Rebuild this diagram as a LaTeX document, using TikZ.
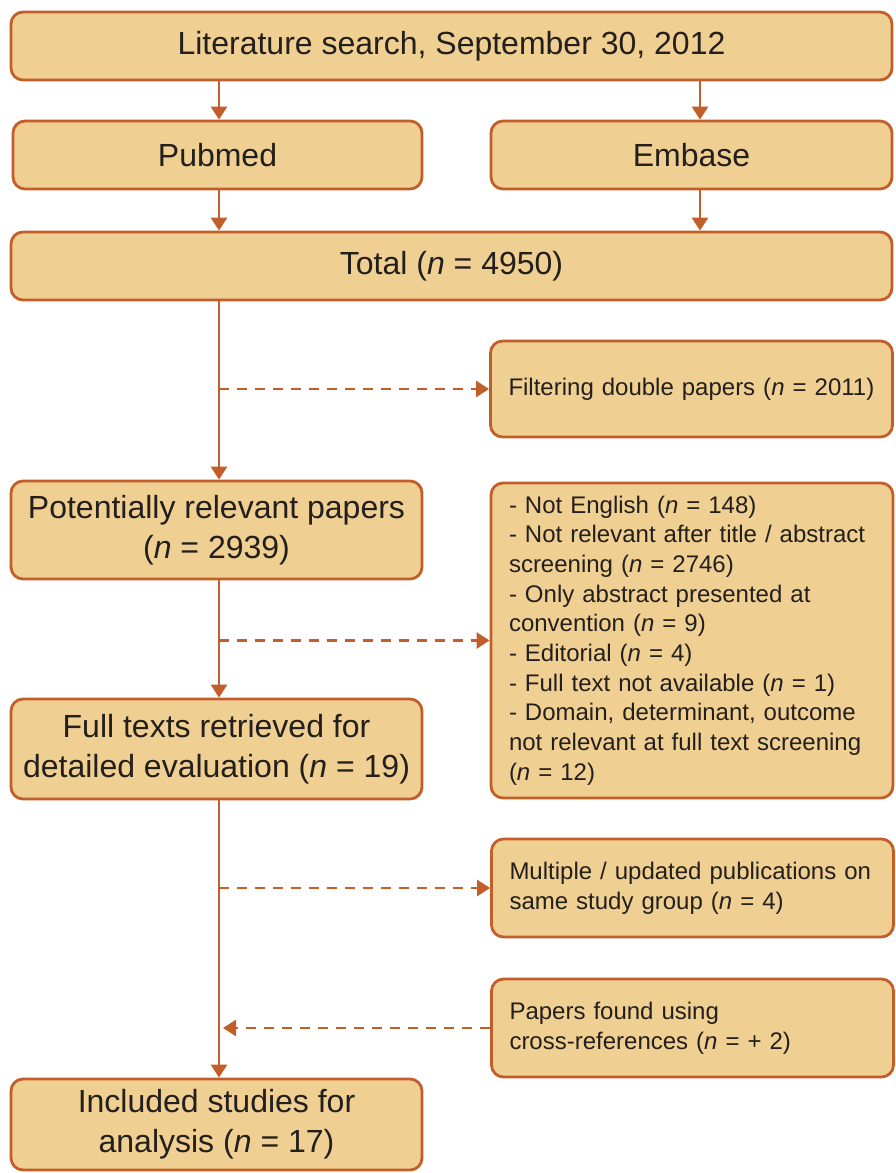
\documentclass[tikz,border=0pt]{standalone}
\usepackage{fontspec}
\setmainfont{Liberation Sans}
\usetikzlibrary{arrows.meta,calc}
\definecolor{boxfill}{HTML}{EFCF92}
\definecolor{boxline}{HTML}{C25E2A}
\definecolor{txt}{HTML}{231F1C}
\begin{document}
\begin{tikzpicture}[x=1pt,y=-1pt,
 box/.style={draw=boxline, fill=boxfill, line width=2.8pt, rounded corners=12pt, text=txt},
 big/.style={font=\fontsize{32}{40}\selectfont, align=center},
 small/.style={font=\fontsize{24}{29.7}\selectfont, align=left, inner xsep=18pt, text width=366pt},
 conn/.style={draw=boxline, line width=2.7pt, -{Triangle[length=13pt,width=16pt]}},
 dconn/.style={conn, dash pattern=on 10pt off 8pt}]
\path[use as bounding box] (0,0) rectangle (895,1173);
\coordinate (lc) at (219,0);
\coordinate (rc) at (700,0);
\node[box,big,minimum width=881pt,minimum height=68pt] (lit) at (451.5,46) {Literature search, September 30, 2012};
\node[box,big,minimum width=409pt,minimum height=68pt] (pub) at (217.5,155) {Pubmed};
\node[box,big,minimum width=401pt,minimum height=68pt] (emb) at (691.5,155) {Embase};
\node[box,big,minimum width=881pt,minimum height=68pt] (tot) at (451.5,266) {Total (\textit{n} = 4950)};
\node[box,small,minimum height=96pt] (filt) at (691.5,389) {Filtering double papers (\textit{n} = 2011)};
\node[box,big,minimum width=411pt,minimum height=98pt] (pot) at (216.5,530) {Potentially relevant papers\\(\textit{n} = 2939)};
\node[box,small,minimum height=315pt] (excl) at (692,640.5) {- Not English (\textit{n} = 148)\\- Not relevant after title / abstract\\screening (\textit{n} = 2746)\\- Only abstract presented at\\convention (\textit{n} = 9)\\- Editorial (\textit{n} = 4)\\- Full text not available (\textit{n} = 1)\\- Domain, determinant, outcome\\not relevant at full text screening\\(\textit{n} = 12)};
\node[box,big,minimum width=411pt,minimum height=100pt] (full) at (216.5,749) {Full texts retrieved for\\detailed evaluation (\textit{n} = 19)};
\node[box,small,minimum height=98pt] (multi) at (692.5,888) {Multiple / updated publications on\\same study group (\textit{n} = 4)};
\node[box,small,minimum height=98pt] (paps) at (692.5,1028) {Papers found using\\cross-references (\textit{n} = + 2)};
\node[box,big,minimum width=411pt,minimum height=91pt] (incl) at (216.5,1124.5) {Included studies for\\analysis (\textit{n} = 17)};
\draw[conn] (lit.south -| lc) -- (pub.north -| lc);
\draw[conn] (lit.south -| rc) -- (emb.north -| rc);
\draw[conn] (pub.south -| lc) -- (tot.north -| lc);
\draw[conn] (emb.south -| rc) -- (tot.north -| rc);
\draw[conn] (tot.south -| lc) -- (pot.north -| lc);
\draw[conn] (pot.south -| lc) -- (full.north -| lc);
\draw[conn] (full.south -| lc) -- (incl.north -| lc);
\draw[dconn] (filt.west -| lc) -- (filt.west);
\draw[dconn] (excl.west -| lc) -- (excl.west);
\draw[dconn] (multi.west -| lc) -- (multi.west);
\draw[dconn] (paps.west) -- ($(paps.west -| lc)+(4,0)$);
\end{tikzpicture}
\end{document}
